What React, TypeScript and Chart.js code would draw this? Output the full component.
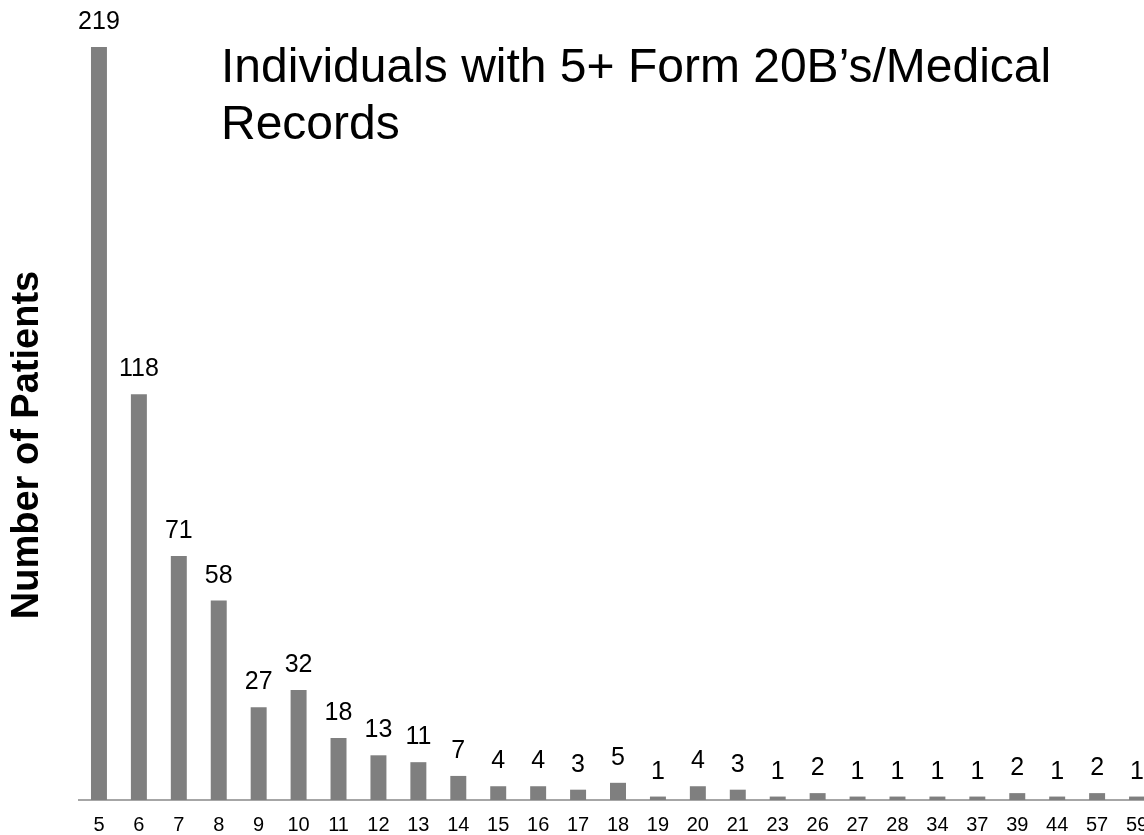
import React, { useEffect, useRef } from "react";
import { Chart, registerables } from "chart.js";

Chart.register(...registerables);

const categories = ["5","6","7","8","9","10","11","12","13","14","15","16","17","18","19","20","21","23","26","27","28","34","37","39","44","57","59"];
const patients = [219,118,71,58,27,32,18,13,11,7,4,4,3,5,1,4,3,1,2,1,1,1,1,2,1,2,1];
const titleLines = ["Individuals with 5+ Form 20B\u2019s/Medical", "Records"];
const yTitle = "Number of Patients";

const FONT = "'Liberation Sans', Arial, sans-serif";

const labelsPlugin = {
  id: "barLabels",
  afterDatasetsDraw(chart: any) {
    const ctx = chart.ctx;
    const meta = chart.getDatasetMeta(0);
    ctx.save();
    ctx.fillStyle = "#000";
    ctx.font = `25px ${FONT}`;
    ctx.textAlign = "center";
    ctx.textBaseline = "alphabetic";
    meta.data.forEach((bar: any, i: number) => {
      ctx.fillText(String(patients[i]), bar.x, bar.y - 18);
    });
    ctx.restore();
  },
};

const titlesPlugin = {
  id: "titles",
  afterDraw(chart: any) {
    const ctx = chart.ctx;
    ctx.save();
    ctx.fillStyle = "#000";
    ctx.font = `48px ${FONT}`;
    ctx.textAlign = "left";
    ctx.textBaseline = "alphabetic";
    ctx.fillText(titleLines[0], 221, 82);
    ctx.fillText(titleLines[1], 221, 139);
    ctx.translate(28, 445);
    ctx.rotate(-Math.PI / 2);
    ctx.font = `bold 38px ${FONT}`;
    ctx.textAlign = "center";
    ctx.textBaseline = "middle";
    ctx.fillText(yTitle, 0, 0);
    ctx.restore();
  },
};

export default function App() {
  const ref = useRef<HTMLCanvasElement | null>(null);
  useEffect(() => {
    if (!ref.current) return;
    const chart = new Chart(ref.current, {
      type: "bar",
      data: {
        labels: categories,
        datasets: [
          {
            data: patients,
            backgroundColor: "#7f7f7f",
            borderWidth: 0,
            barPercentage: 0.4,
            categoryPercentage: 1,
          },
        ],
      },
      options: {
        animation: false,
        responsive: true,
        maintainAspectRatio: false,
        layout: { padding: { left: 79, right: 9, top: 47, bottom: -15 } },
        plugins: { legend: { display: false }, tooltip: { enabled: false }, title: { display: false } },
        scales: {
          x: {
            grid: { display: false, drawTicks: false },
            border: { display: true, color: "#a6a6a6", width: 2 },
            ticks: {
              color: "#000",
              font: { family: FONT, size: 20, lineHeight: 1 },
              padding: 15,
              autoSkip: false,
              maxRotation: 0,
            },
          },
          y: { display: false, min: 0, max: 219 },
        },
      },
      plugins: [labelsPlugin, titlesPlugin],
    });
    return () => chart.destroy();
  }, []);
  return (
    <div style={{ position: "fixed", left: 0, top: 0, width: 1144, height: 835, overflow: "hidden", background: "#fff" }}>
      <div style={{ position: "relative", width: 1166, height: 835 }}>
        <canvas ref={ref} />
      </div>
    </div>
  );
}
